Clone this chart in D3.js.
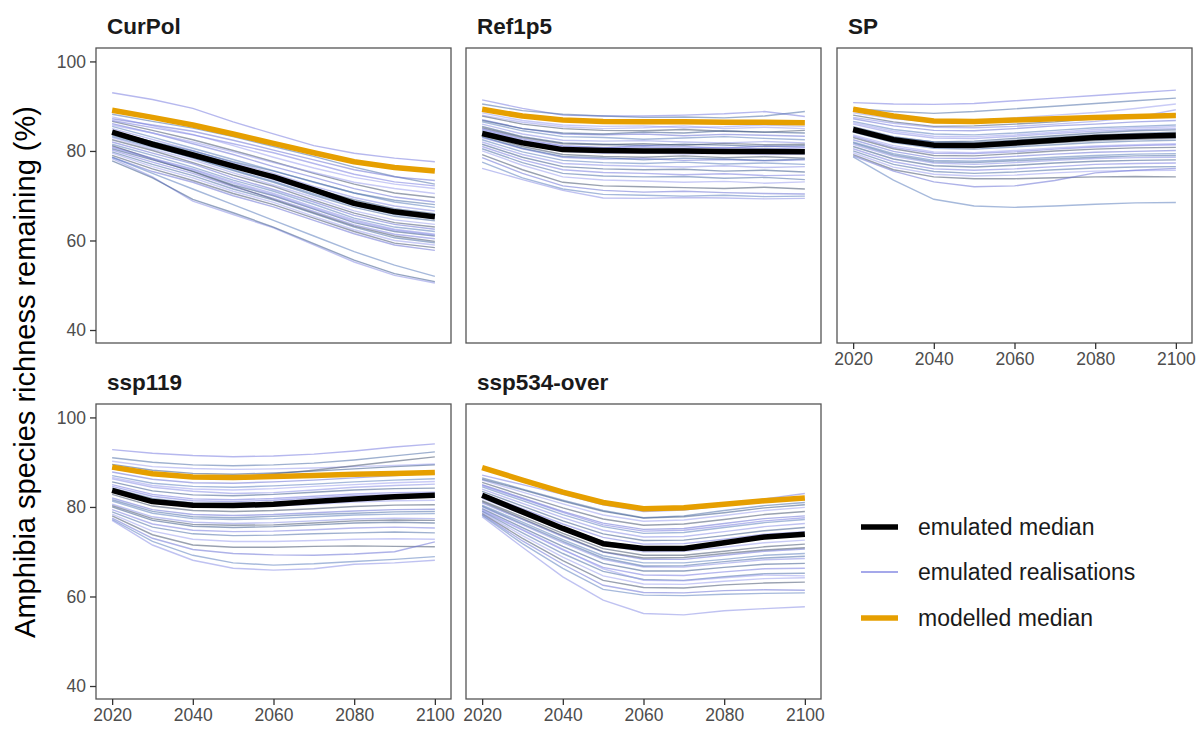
<!DOCTYPE html>
<html>
<head>
<meta charset="utf-8">
<script src="https://cdn.jsdelivr.net/npm/d3@7/dist/d3.min.js"></script>
<style>
  html, body { margin: 0; padding: 0; background: #fff; }
  svg { display: block; font-family: "Liberation Sans", Arial, Helvetica, sans-serif; }
</style>
</head>
<body>
<svg id="chart" width="1202" height="729"></svg>
<script>
// ---------------- DATA ----------------
const years = [2020, 2030, 2040, 2050, 2060, 2070, 2080, 2090, 2100];
const scenarios = ["CurPol", "Ref1p5", "SP", "ssp119", "ssp534-over"];
const xTicks = [2020, 2040, 2060, 2080, 2100];
const yTicks = [40, 60, 80, 100];
const legendLabels = ["emulated median", "emulated realisations", "modelled median"];

const emulatedMedianCurPol = [84.2, 81.5, 79.1, 76.6, 74.2, 71.3, 68.3, 66.4, 65.3];
const emulatedMedianRef1p5 = [83.9, 81.8, 80.3, 80.1, 80.0, 80.0, 79.9, 79.9, 79.8];
const emulatedMedianSP     = [84.8, 82.5, 81.3, 81.2, 81.8, 82.4, 83.0, 83.3, 83.5];
const emulatedMedianSsp119 = [83.7, 81.2, 80.4, 80.3, 80.6, 81.2, 81.8, 82.3, 82.6];
const emulatedMedianSsp534 = [82.6, 78.9, 75.2, 71.8, 70.7, 70.7, 72.0, 73.3, 73.9];

const modelledMedianCurPol = [89.1, 87.5, 85.8, 83.8, 81.7, 79.6, 77.6, 76.3, 75.5];
const modelledMedianRef1p5 = [89.3, 87.8, 86.9, 86.6, 86.5, 86.5, 86.4, 86.4, 86.3];
const modelledMedianSP     = [89.3, 87.8, 86.7, 86.6, 86.9, 87.2, 87.5, 87.7, 87.9];
const modelledMedianSsp119 = [88.9, 87.4, 86.7, 86.6, 86.8, 87.0, 87.3, 87.5, 87.7];
const modelledMedianSsp534 = [88.8, 86.0, 83.3, 81.0, 79.6, 79.8, 80.6, 81.4, 82.0];

const realCurPol = [
  [93.0, 91.5, 89.5, 86.5, 83.8, 81.2, 79.5, 78.4, 77.6],
  [88.2, 86.6, 85.1, 83.2, 81.0, 78.8, 76.4, 74.3, 72.6],
  [87.6, 85.6, 83.7, 81.2, 78.6, 76.2, 74.1, 72.6, 71.6],
  [86.6, 84.6, 82.5, 80.1, 77.6, 75.0, 72.6, 70.6, 69.6],
  [86.1, 84.0, 81.6, 79.2, 76.5, 74.1, 71.6, 69.7, 68.6],
  [85.5, 83.1, 80.6, 78.1, 75.6, 73.0, 70.6, 68.6, 67.4],
  [85.0, 82.6, 80.1, 77.4, 75.0, 72.1, 69.6, 67.7, 66.6],
  [84.5, 82.0, 79.6, 77.1, 74.4, 71.6, 69.1, 67.1, 66.0],
  [84.0, 81.4, 79.0, 76.4, 73.6, 70.9, 68.1, 66.1, 65.1],
  [83.5, 81.1, 78.4, 75.6, 73.0, 70.1, 67.4, 65.4, 64.4],
  [83.0, 80.4, 78.0, 75.1, 72.4, 69.6, 66.6, 64.6, 63.6],
  [82.5, 80.1, 77.4, 74.6, 72.1, 69.0, 66.1, 64.0, 63.0],
  [82.0, 79.5, 77.1, 74.0, 71.4, 68.6, 65.6, 63.6, 62.5],
  [81.5, 79.0, 76.4, 73.5, 71.0, 68.1, 65.0, 63.0, 62.0],
  [81.0, 78.4, 76.0, 73.1, 70.5, 67.5, 64.6, 62.5, 61.4],
  [80.5, 78.0, 75.5, 72.4, 70.0, 67.0, 64.0, 62.0, 61.0],
  [80.2, 77.5, 75.0, 72.0, 69.4, 66.5, 63.5, 61.4, 60.4],
  [79.8, 77.0, 74.5, 71.5, 69.0, 66.0, 63.0, 60.6, 59.5],
  [79.5, 76.5, 74.0, 71.0, 68.5, 65.4, 62.4, 60.0, 59.0],
  [79.0, 76.0, 73.4, 70.5, 68.0, 65.0, 62.0, 59.4, 58.4],
  [78.6, 75.4, 73.0, 70.0, 67.5, 64.5, 61.5, 59.0, 57.8],
  [78.6, 75.0, 71.5, 68.0, 64.5, 61.0, 57.5, 54.5, 52.0],
  [78.3, 74.2, 68.8, 65.8, 62.8, 59.0, 55.2, 52.2, 50.5],
  [77.8, 74.0, 69.2, 66.2, 63.0, 59.3, 55.6, 52.6, 50.8],
  [86.8, 85.2, 83.6, 81.6, 79.6, 77.2, 74.8, 73.1, 72.2],
  [84.2, 82.1, 80.0, 77.6, 75.5, 73.1, 70.6, 69.0, 68.0],
  [85.8, 84.0, 82.0, 79.8, 77.4, 75.2, 73.0, 71.6, 70.5],
  [81.2, 78.2, 75.4, 72.2, 69.2, 66.2, 63.2, 61.0, 59.8],
  [87.2, 85.8, 84.4, 82.4, 80.2, 78.0, 75.8, 74.2, 73.4],
  [83.2, 80.8, 78.6, 75.8, 73.2, 70.4, 67.8, 65.8, 64.9],
  [80.8, 78.2, 75.8, 72.8, 70.2, 67.2, 64.3, 62.3, 61.2]
];

const realRef1p5 = [
  [91.4, 89.5, 88.0, 87.8, 87.8, 88.0, 88.3, 88.8, 87.7],
  [90.5, 89.0, 88.2, 87.8, 87.5, 87.6, 87.4, 87.8, 88.8],
  [88.5, 86.8, 85.8, 85.5, 85.6, 85.2, 85.4, 85.8, 85.5],
  [87.8, 86.0, 85.0, 84.6, 84.5, 84.8, 84.4, 84.2, 84.6],
  [87.0, 85.0, 83.8, 83.6, 83.8, 83.4, 83.7, 83.5, 83.3],
  [86.5, 84.5, 83.2, 83.0, 82.6, 82.9, 83.2, 82.8, 82.5],
  [86.0, 83.8, 82.4, 82.2, 82.3, 82.0, 81.8, 82.1, 81.8],
  [85.5, 83.2, 81.8, 81.5, 81.2, 81.5, 81.3, 81.0, 81.2],
  [85.0, 82.7, 81.2, 80.8, 80.9, 80.6, 80.8, 80.5, 80.7],
  [84.5, 82.2, 80.6, 80.3, 80.1, 80.2, 79.9, 80.1, 79.6],
  [84.0, 81.6, 79.9, 79.5, 79.6, 79.3, 79.5, 79.2, 79.3],
  [83.5, 81.0, 79.2, 78.8, 78.6, 78.9, 78.5, 78.7, 78.4],
  [83.0, 80.5, 78.6, 78.2, 78.3, 77.9, 78.1, 77.8, 78.0],
  [82.5, 79.8, 77.9, 77.4, 77.2, 77.5, 77.1, 77.3, 77.0],
  [82.0, 79.2, 77.2, 76.8, 76.6, 76.4, 76.7, 76.3, 76.5],
  [81.5, 78.6, 76.5, 76.0, 75.8, 75.9, 75.5, 75.7, 75.3],
  [81.0, 78.0, 75.8, 75.2, 75.0, 74.7, 74.9, 74.5, 74.6],
  [80.5, 77.4, 75.0, 74.4, 74.2, 74.3, 73.9, 74.1, 73.6],
  [80.0, 76.8, 74.2, 73.5, 73.3, 73.0, 73.2, 72.8, 73.1],
  [79.2, 75.8, 73.0, 72.2, 72.0, 71.8, 71.6, 71.9, 71.5],
  [78.5, 75.0, 72.2, 71.2, 70.8, 71.0, 70.7, 70.5, 70.4],
  [77.5, 74.0, 71.5, 70.3, 70.1, 69.9, 70.1, 69.8, 69.9],
  [76.1, 73.6, 71.2, 69.5, 69.4, 69.6, 69.5, 69.3, 69.4],
  [86.8, 85.0, 84.0, 83.8, 84.2, 84.0, 84.5, 84.2, 84.0],
  [84.8, 82.4, 81.0, 80.7, 81.2, 81.0, 80.6, 81.1, 80.9],
  [83.2, 80.6, 78.8, 78.5, 78.0, 78.4, 78.2, 77.9, 78.2],
  [88.0, 86.4, 85.4, 85.0, 85.2, 85.6, 85.0, 85.3, 85.0],
  [85.2, 83.0, 81.6, 81.4, 81.6, 81.3, 81.7, 81.4, 81.5]
];

const realSP = [
  [90.8, 90.5, 90.4, 90.6, 91.2, 91.8, 92.4, 93.0, 93.6],
  [89.5, 88.8, 88.4, 88.8, 89.4, 90.0, 90.6, 91.2, 91.8],
  [88.5, 87.2, 86.5, 86.8, 87.4, 88.0, 88.6, 89.5, 90.5],
  [88.0, 86.5, 85.5, 85.6, 86.0, 86.5, 87.2, 87.8, 88.2],
  [87.2, 85.6, 84.6, 84.5, 85.0, 85.6, 86.0, 86.5, 86.8],
  [86.6, 84.8, 83.8, 83.6, 84.0, 84.6, 85.2, 85.5, 85.8],
  [86.0, 84.0, 82.9, 82.8, 83.3, 83.9, 84.4, 84.8, 85.0],
  [85.4, 83.2, 82.0, 81.9, 82.4, 83.0, 83.6, 83.9, 84.2],
  [84.8, 82.6, 81.3, 81.1, 81.6, 82.2, 82.7, 83.0, 83.2],
  [84.2, 81.9, 80.6, 80.4, 80.9, 81.4, 81.9, 82.2, 82.4],
  [83.6, 81.2, 79.8, 79.6, 80.1, 80.7, 81.1, 81.4, 81.6],
  [83.0, 80.5, 79.0, 78.9, 79.4, 80.0, 80.4, 80.7, 80.8],
  [82.5, 79.9, 78.4, 78.3, 78.8, 79.3, 79.7, 79.9, 80.1],
  [82.0, 79.4, 77.9, 77.7, 78.1, 78.6, 79.0, 79.3, 79.4],
  [81.5, 78.8, 77.3, 77.0, 77.4, 77.9, 78.3, 78.5, 78.6],
  [81.0, 78.2, 76.7, 76.4, 76.8, 77.3, 77.7, 77.9, 78.0],
  [80.5, 77.6, 76.0, 75.7, 76.0, 76.5, 77.0, 77.2, 77.3],
  [80.0, 77.0, 75.4, 75.0, 75.3, 75.8, 76.2, 76.4, 76.5],
  [79.6, 76.4, 74.8, 74.4, 74.6, 75.1, 75.5, 75.6, 75.7],
  [79.2, 75.8, 74.2, 73.8, 73.8, 74.0, 74.2, 74.3, 74.2],
  [78.9, 75.5, 73.1, 72.0, 72.2, 73.4, 75.1, 75.7, 76.1],
  [78.7, 73.5, 69.2, 67.7, 67.4, 67.7, 68.1, 68.4, 68.5],
  [87.5, 86.2, 85.3, 85.2, 85.5, 86.0, 86.6, 87.5, 89.2],
  [85.0, 83.0, 82.0, 82.2, 82.8, 83.4, 84.0, 84.5, 84.7],
  [83.3, 80.8, 79.5, 79.4, 79.8, 80.4, 80.9, 81.2, 81.4],
  [81.8, 79.1, 77.6, 77.4, 77.8, 78.2, 78.6, 78.9, 79.0],
  [86.3, 84.4, 83.3, 83.2, 83.6, 84.2, 84.8, 85.2, 85.4],
  [84.5, 82.2, 80.9, 80.8, 81.2, 81.8, 82.3, 82.6, 82.8]
];

const realSsp119 = [
  [92.8, 92.0, 91.5, 91.2, 91.4, 91.8, 92.5, 93.4, 94.1],
  [91.0, 90.0, 89.4, 89.2, 89.4, 89.8, 90.5, 91.4, 92.3],
  [90.2, 89.0, 88.6, 88.4, 88.5, 88.7, 89.0, 89.3, 89.6],
  [88.5, 87.4, 86.8, 86.7, 87.4, 88.2, 89.2, 90.2, 91.2],
  [87.8, 86.2, 85.4, 85.3, 85.6, 86.0, 86.5, 87.0, 87.5],
  [87.0, 85.3, 84.6, 84.4, 84.7, 85.1, 85.6, 86.0, 86.3],
  [86.3, 84.4, 83.5, 83.0, 83.2, 83.8, 84.4, 84.8, 85.1],
  [85.6, 83.6, 82.7, 82.5, 82.8, 83.3, 83.8, 84.1, 84.2],
  [85.0, 82.8, 81.8, 81.6, 81.9, 82.4, 82.9, 83.2, 83.3],
  [84.2, 81.9, 80.9, 80.8, 81.0, 81.5, 82.0, 82.3, 82.4],
  [83.5, 81.1, 80.0, 79.9, 80.2, 80.6, 81.1, 81.4, 81.5],
  [82.8, 80.2, 79.2, 79.0, 79.2, 79.6, 80.1, 80.4, 80.5],
  [82.0, 79.4, 78.3, 78.1, 78.3, 78.7, 79.1, 79.4, 79.5],
  [81.3, 78.6, 77.4, 77.2, 77.4, 77.8, 78.2, 78.4, 78.5],
  [80.6, 77.8, 76.6, 76.3, 76.5, 76.9, 77.3, 77.5, 77.4],
  [80.0, 77.0, 75.7, 75.4, 75.6, 76.0, 76.4, 76.6, 76.4],
  [79.4, 76.2, 74.8, 74.5, 74.6, 74.9, 75.3, 75.5, 75.3],
  [78.9, 75.5, 74.0, 73.6, 73.7, 74.0, 74.2, 74.4, 74.2],
  [78.4, 74.6, 72.8, 72.3, 72.3, 72.5, 72.8, 72.9, 72.8],
  [78.0, 73.8, 71.5, 71.0, 71.0, 71.2, 71.3, 71.2, 71.1],
  [77.5, 73.0, 70.5, 69.6, 69.3, 69.2, 69.5, 70.0, 72.2],
  [77.2, 72.3, 69.2, 67.5, 67.0, 67.3, 67.8, 68.3, 68.9],
  [77.0, 71.5, 68.1, 66.3, 65.9, 66.2, 67.2, 67.5, 68.1],
  [89.5, 88.2, 87.5, 87.3, 87.6, 88.0, 88.5, 89.0, 89.4],
  [84.6, 82.4, 81.4, 81.2, 81.5, 82.0, 82.5, 82.8, 82.9],
  [81.6, 79.0, 77.8, 77.6, 77.9, 78.3, 78.6, 78.9, 79.0],
  [86.6, 84.8, 84.0, 83.8, 84.1, 84.6, 85.0, 85.4, 85.7],
  [80.3, 77.4, 76.1, 75.9, 76.0, 76.4, 76.9, 77.1, 77.0]
];

const realSsp534 = [
  [87.1, 85.0, 82.8, 80.5, 79.0, 79.3, 80.3, 81.8, 83.0],
  [86.5, 84.0, 81.5, 79.2, 77.6, 78.0, 79.2, 80.3, 81.0],
  [86.0, 83.3, 80.7, 78.2, 76.8, 77.1, 78.1, 79.2, 79.9],
  [85.5, 82.6, 79.8, 77.3, 75.9, 76.2, 77.2, 78.3, 79.0],
  [85.0, 82.0, 79.0, 76.4, 75.0, 75.2, 76.3, 77.4, 78.0],
  [84.5, 81.4, 78.3, 75.6, 74.1, 74.3, 75.4, 76.5, 77.2],
  [84.0, 80.8, 77.6, 74.8, 73.3, 73.4, 74.5, 75.6, 76.3],
  [83.5, 80.2, 76.9, 74.0, 72.5, 72.6, 73.6, 74.7, 75.4],
  [83.0, 79.6, 76.2, 73.2, 71.7, 71.8, 72.8, 73.9, 74.5],
  [82.4, 79.0, 75.5, 72.3, 70.9, 70.9, 71.9, 73.0, 73.6],
  [81.9, 78.4, 74.8, 71.5, 70.0, 70.1, 71.0, 72.0, 72.6],
  [81.4, 77.8, 74.1, 70.7, 69.2, 69.2, 70.1, 71.1, 71.7],
  [80.9, 77.2, 73.4, 69.9, 68.3, 68.3, 69.2, 70.1, 70.6],
  [80.4, 76.6, 72.7, 69.1, 67.5, 67.5, 68.3, 69.2, 69.6],
  [80.0, 76.0, 72.0, 68.3, 66.6, 66.6, 67.4, 68.2, 68.5],
  [79.6, 75.4, 71.2, 67.4, 65.7, 65.7, 66.5, 67.2, 67.4],
  [79.2, 74.8, 70.4, 66.5, 64.8, 64.7, 65.5, 66.2, 66.3],
  [79.0, 74.2, 69.6, 65.6, 63.8, 63.6, 64.4, 65.1, 65.2],
  [78.8, 73.6, 68.8, 64.6, 62.8, 62.7, 63.4, 64.0, 64.2],
  [78.5, 73.0, 68.0, 63.6, 62.0, 61.9, 62.6, 63.0, 63.2],
  [78.3, 72.4, 67.2, 62.5, 60.9, 60.8, 61.3, 61.5, 61.4],
  [78.1, 71.8, 66.3, 61.6, 60.3, 60.2, 60.5, 60.7, 60.8],
  [77.8, 71.0, 64.4, 59.2, 56.2, 55.9, 56.8, 57.3, 57.7],
  [86.2, 83.8, 81.3, 79.0, 77.5, 77.8, 78.7, 79.8, 80.5],
  [84.8, 81.8, 78.8, 76.0, 74.6, 74.8, 75.8, 76.9, 77.6],
  [80.2, 76.2, 72.3, 68.6, 66.8, 66.9, 67.8, 68.6, 69.0],
  [79.4, 75.0, 70.6, 66.2, 63.6, 63.5, 64.2, 64.8, 64.6],
  [81.2, 77.4, 73.6, 70.0, 68.6, 68.7, 69.6, 70.4, 70.9]
];

const emulatedMedians = [emulatedMedianCurPol, emulatedMedianRef1p5, emulatedMedianSP, emulatedMedianSsp119, emulatedMedianSsp534];
const modelledMedians = [modelledMedianCurPol, modelledMedianRef1p5, modelledMedianSP, modelledMedianSsp119, modelledMedianSsp534];
const realisations = [realCurPol, realRef1p5, realSP, realSsp119, realSsp534];

// ---------------- LAYOUT ----------------
const svg = d3.select("#chart");
const panelW = 355, panelH = 295;
const colX = [96, 466, 837];
const rowY = [48, 404];
const panels = scenarios.map((s, i) => ({
  name: s, col: i % 3, row: Math.floor(i / 3),
  yAxis: i % 3 === 0,
  xAxis: i >= 2
}));

const x = d3.scaleLinear().domain([2016, 2104]).range([0, panelW]);
const y = d3.scaleLinear().domain([37.1, 103]).range([panelH, 0]);

const realColors = ["#7a7ee0", "#4e6fa8", "#9da0ee", "#46546f", "#6c73d6", "#5d80bd", "#8b8fe6", "#3d5a8c"];

const line = d3.line().x((d, i) => x(years[i])).y(d => y(d));

panels.forEach((p, i) => {
  const g = svg.append("g").attr("transform", `translate(${colX[p.col]},${rowY[p.row]})`);

  svg.append("text")
    .attr("x", colX[p.col] + 11)
    .attr("y", rowY[p.row] - 14.5)
    .attr("font-size", 22.5)
    .attr("font-weight", "bold")
    .attr("fill", "#1a1a1a")
    .text(p.name);

  g.append("g").selectAll("path")
    .data(realisations[i])
    .join("path")
    .attr("d", line)
    .attr("fill", "none")
    .attr("stroke", (d, k) => realColors[k % realColors.length])
    .attr("stroke-opacity", 0.55)
    .attr("stroke-width", 1.4);

  g.append("path")
    .datum(emulatedMedians[i])
    .attr("d", line)
    .attr("fill", "none")
    .attr("stroke", "#000")
    .attr("stroke-width", 5.5)
    .attr("stroke-linejoin", "round");

  g.append("path")
    .datum(modelledMedians[i])
    .attr("d", line)
    .attr("fill", "none")
    .attr("stroke", "#E69F00")
    .attr("stroke-width", 5.5)
    .attr("stroke-linejoin", "round");

  g.append("rect")
    .attr("x", 0).attr("y", 0)
    .attr("width", panelW).attr("height", panelH)
    .attr("fill", "none")
    .attr("stroke", "#555")
    .attr("stroke-width", 1.3);

  if (p.yAxis) {
    const ya = g.append("g").call(d3.axisLeft(y).tickValues(yTicks).tickSize(6).tickPadding(4));
    ya.select(".domain").remove();
    ya.selectAll(".tick line").attr("stroke", "#333").attr("stroke-width", 1.3);
    ya.selectAll(".tick text").attr("fill", "#4d4d4d").attr("font-size", 17.5)
      .attr("font-family", "Liberation Sans, Arial, sans-serif");
  }
  if (p.xAxis) {
    const xa = g.append("g").attr("transform", `translate(0,${panelH})`)
      .call(d3.axisBottom(x).tickValues(xTicks).tickFormat(d3.format("d")).tickSize(6).tickPadding(4));
    xa.select(".domain").remove();
    xa.selectAll(".tick line").attr("stroke", "#333").attr("stroke-width", 1.3);
    xa.selectAll(".tick text").attr("fill", "#4d4d4d").attr("font-size", 17.5)
      .attr("font-family", "Liberation Sans, Arial, sans-serif");
  }
});

svg.append("text")
  .attr("transform", "translate(35,372) rotate(-90)")
  .attr("text-anchor", "middle")
  .attr("font-size", 29)
  .attr("fill", "#000")
  .text("Amphibia species richness remaining (%)");

const legendY = [527, 572, 618];
const legendStroke = ["#000", "#7a7ee0", "#E69F00"];
const legendWidth = [5.5, 1.4, 5.5];
const legendOpacity = [1, 0.9, 1];
legendLabels.forEach((lab, k) => {
  svg.append("line")
    .attr("x1", 861).attr("x2", 898)
    .attr("y1", legendY[k]).attr("y2", legendY[k])
    .attr("stroke", legendStroke[k])
    .attr("stroke-opacity", legendOpacity[k])
    .attr("stroke-width", legendWidth[k]);
  svg.append("text")
    .attr("x", 918).attr("y", legendY[k] + 8)
    .attr("font-size", 23)
    .attr("fill", "#1a1a1a")
    .text(lab);
});
</script>
</body>
</html>
